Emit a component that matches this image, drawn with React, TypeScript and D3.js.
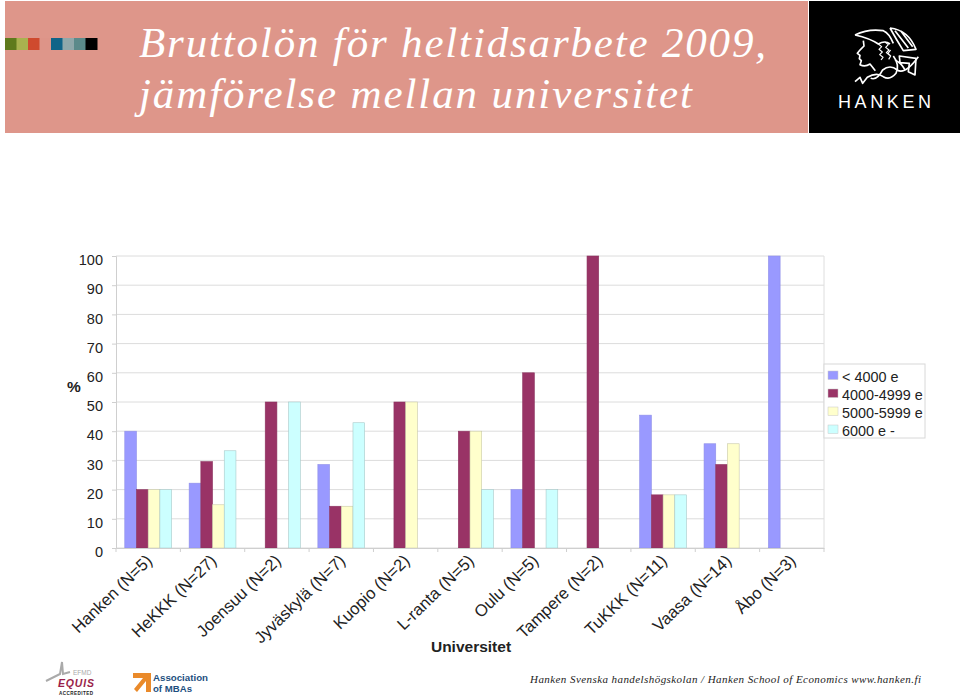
import React, { useEffect, useRef } from 'react';
import * as d3 from 'd3';

const categories = ['Hanken (N=5)', 'HeKKK (N=27)', 'Joensuu (N=2)', 'Jyväskylä (N=7)', 'Kuopio (N=2)', 'L-ranta (N=5)', 'Oulu (N=5)', 'Tampere (N=2)', 'TuKKK (N=11)', 'Vaasa (N=14)', 'Åbo (N=3)'];
const seriesNames = ['< 4000 e', '4000-4999 e', '5000-5999 e', '6000 e -'];
const seriesColors = ['#9999ff', '#993366', '#ffffcc', '#ccffff'];
const seriesEdges = ['#8f8fe8', '#8d3560', '#c9c9a8', '#a9c9c9'];
const under4000 = [40, 22.2, 0, 28.6, 0, 0, 20, 0, 45.5, 35.7, 100];
const from4000 = [20, 29.6, 50, 14.3, 50, 40, 60, 100, 18.2, 28.6, 0];
const from5000 = [20, 14.8, 0, 14.3, 50, 40, 0, 0, 18.2, 35.7, 0];
const from6000 = [20, 33.3, 50, 42.9, 0, 20, 20, 0, 18.2, 0, 0];
const seriesValues = [under4000, from4000, from5000, from6000];
const yTicks = [0, 10, 20, 30, 40, 50, 60, 70, 80, 90, 100];
const swatches = ['#5f7a1c', '#a9b24f', '#cf4a2e', '#dd9488', '#0f6488', '#8fa8aa', '#5b8a8a', '#000000'];

const SANS = '"Liberation Sans", Arial, sans-serif';
const SERIF = '"Liberation Serif", "Times New Roman", serif';

export default function App() {
  const svgRef = useRef<SVGSVGElement>(null);

  useEffect(() => {
    if (!svgRef.current) return;
    const svg = d3.select(svgRef.current);
    svg.selectAll('*').remove();

    const plot = { left: 116, right: 824, top: 256, bottom: 548 };

    const x = d3.scaleBand().domain(categories).range([plot.left, plot.right]);
    const y = d3.scaleLinear().domain([0, 100]).range([plot.bottom, plot.top]);
    const inner = d3.scaleBand().domain(seriesNames).range([0, x.bandwidth()]).paddingOuter(0.75);

    // Header
    svg.append('rect').attr('x', 5).attr('y', 1).attr('width', 803).attr('height', 132).attr('fill', '#de968a');
    svg.append('rect').attr('x', 809).attr('y', 1).attr('width', 151).attr('height', 132).attr('fill', '#000');
    const sw = d3.scaleBand().domain(d3.range(swatches.length).map(String)).range([5, 97]);
    svg.append('g').selectAll('rect').data(swatches).enter().append('rect')
      .attr('x', (_, i) => sw(String(i)) as number)
      .attr('y', 38).attr('width', sw.bandwidth() + 0.5).attr('height', 12)
      .attr('fill', d => d);
    svg.append('text').text('Bruttolön för heltidsarbete 2009,')
      .attr('x', 139).attr('y', 57).attr('fill', '#fff').attr('font-family', SERIF)
      .attr('font-style', 'italic').attr('font-size', 43)
      .attr('textLength', 627).attr('lengthAdjust', 'spacing');
    svg.append('text').text('jämförelse mellan universitet')
      .attr('x', 139).attr('y', 108).attr('fill', '#fff').attr('font-family', SERIF)
      .attr('font-style', 'italic').attr('font-size', 43)
      .attr('textLength', 553).attr('lengthAdjust', 'spacing');

    // Hanken logo, traced roughly from the crest
    const logo = svg.append('g').attr('transform', 'translate(840,20) scale(0.3333)')
      .attr('fill', 'none').attr('stroke', '#fff').attr('stroke-width', 5).attr('stroke-linejoin', 'round');
    logo.append('path').attr('d', 'M45 45 Q90 55 115 72 Q135 60 150 72 M45 45 Q85 25 130 32 Q148 40 160 70 M70 62 L72 78 L62 88 L52 100 L60 106 L58 116 L64 122 L60 134 Q75 142 90 132 L106 152');
    logo.append('path').attr('d', 'M150 24 Q205 30 228 88 L190 92 Q170 60 150 24 M165 32 L205 84 M182 32 L218 80');
    logo.append('path').attr('d', 'M115 72 l10 8 l-8 8 l10 8 l-8 8 l10 8 l-6 8 M135 66 l10 8 l-8 8 l10 8 l-8 8 l10 8 M152 90 l-8 10 l8 8 l-6 10').attr('stroke-width', 3.5);
    logo.append('path').attr('d', 'M45 185 L60 172 L68 190 L82 172 Q110 155 130 170 Q150 182 168 160 Q180 135 160 108 M92 175 Q112 182 128 150 Q150 132 172 150 Q195 165 235 110');
    logo.append('path').attr('d', 'M178 108 L228 115 L225 165 L205 155 L208 130 L180 128 Z M165 120 Q185 130 195 150');
    svg.append('text').text('HANKEN').attr('x', 838).attr('y', 108).attr('fill', '#fff')
      .attr('font-family', SANS).attr('font-size', 18)
      .attr('textLength', 93).attr('lengthAdjust', 'spacing');

    // Gridlines
    svg.append('g').selectAll('line').data(yTicks).enter().append('line')
      .attr('x1', plot.left).attr('x2', plot.right)
      .attr('y1', d => y(d)).attr('y2', d => y(d))
      .attr('stroke', '#dcdcdc').attr('stroke-width', 1);
    svg.append('line').attr('x1', plot.right).attr('x2', plot.right)
      .attr('y1', plot.top).attr('y2', plot.bottom).attr('stroke', '#dedede');

    // Bars
    seriesNames.forEach((name, si) => {
      const g = svg.append('g');
      seriesValues[si].forEach((v, ci) => {
        if (v <= 0) return;
        g.append('rect')
          .attr('x', (x(categories[ci]) as number) + (inner(name) as number))
          .attr('y', y(v))
          .attr('width', inner.bandwidth())
          .attr('height', plot.bottom - y(v))
          .attr('fill', seriesColors[si])
          .attr('stroke', seriesEdges[si])
          .attr('stroke-width', 0.6);
      });
    });

    // Axes
    const yAxis = svg.append('g').attr('transform', `translate(${plot.left},0)`)
      .call(d3.axisLeft(y).tickValues(yTicks).tickSize(4).tickPadding(9));
    yAxis.selectAll('path,line').attr('stroke', '#cfcfcf');
    yAxis.selectAll('text').attr('font-family', SANS).attr('font-size', 14.5).attr('fill', '#222')
      .attr('dy', '0.6em');

    const xAxis = svg.append('g').attr('transform', `translate(0,${plot.bottom})`)
      .call(d3.axisBottom(x).tickSize(0).tickFormat(d => d as string));
    xAxis.select('path').attr('stroke', '#cfcfcf');
    xAxis.selectAll('text')
      .attr('font-family', SANS).attr('font-size', 16.6).attr('fill', '#222')
      .attr('text-anchor', 'end').attr('dy', 0).attr('y', 0)
      .attr('transform', 'translate(5,14) rotate(-44)');
    svg.append('g').selectAll('line').data(d3.range(categories.length + 1)).enter().append('line')
      .attr('x1', d => plot.left + d * x.step()).attr('x2', d => plot.left + d * x.step())
      .attr('y1', plot.bottom).attr('y2', plot.bottom + 4).attr('stroke', '#cfcfcf');

    // Axis titles
    svg.append('text').text('%').attr('x', 74).attr('y', 392).attr('text-anchor', 'middle')
      .attr('font-family', SANS).attr('font-size', 15.5).attr('font-weight', 700).attr('fill', '#222');
    svg.append('text').text('Universitet').attr('x', 471).attr('y', 652).attr('text-anchor', 'middle')
      .attr('font-family', SANS).attr('font-size', 15.5).attr('font-weight', 700).attr('fill', '#222');

    // Legend
    const legend = svg.append('g');
    legend.append('rect').attr('x', 824).attr('y', 364).attr('width', 101).attr('height', 74)
      .attr('fill', '#fff').attr('stroke', '#d8d8d8');
    const ly = d3.scalePoint().domain(seriesNames).range([371, 425]);
    seriesNames.forEach((name, si) => {
      const top = ly(name) as number;
      legend.append('rect').attr('x', 828).attr('y', top).attr('width', 10).attr('height', 8.5)
        .attr('fill', seriesColors[si]).attr('stroke', '#c8c8c8').attr('stroke-width', 0.5);
      legend.append('text').text(name).attr('x', 842).attr('y', top + 11)
        .attr('font-family', SANS).attr('font-size', 14.4).attr('fill', '#222');
    });

    // Footer
    svg.append('text').text('Hanken Svenska handelshögskolan / Hanken School of Economics www.hanken.fi')
      .attr('x', 530).attr('y', 683).attr('font-family', SERIF).attr('font-style', 'italic')
      .attr('font-size', 11).attr('fill', '#222').attr('textLength', 391).attr('lengthAdjust', 'spacing');

    // Accreditation marks
    svg.append('path').attr('d', 'M46 681 L60 674 L62 662 L63 674 L70 672').attr('fill', 'none').attr('stroke', '#aaa').attr('stroke-width', 2);
    svg.append('text').text('EFMD').attr('x', 73).attr('y', 675).attr('font-family', SANS).attr('font-size', 6.5).attr('fill', '#aaa');
    svg.append('text').text('EQUIS').attr('x', 58).attr('y', 687).attr('font-family', SANS).attr('font-size', 10.5)
      .attr('font-weight', 700).attr('font-style', 'italic').attr('fill', '#9a1f4a').attr('textLength', 36);
    svg.append('text').text('ACCREDITED').attr('x', 59).attr('y', 695).attr('font-family', SANS).attr('font-size', 4.6)
      .attr('font-weight', 700).attr('fill', '#222').attr('textLength', 34);
    svg.append('path').attr('d', 'M133 673 H151 V692 H146 V681 L137 692 L134 689 L143 678 H133 Z').attr('fill', '#ea8a2a');
    svg.append('text').text('Association').attr('x', 153).attr('y', 681).attr('font-family', SANS).attr('font-size', 9)
      .attr('font-weight', 700).attr('fill', '#1d4f80').attr('textLength', 55).attr('lengthAdjust', 'spacingAndGlyphs');
    svg.append('text').text('of MBAs').attr('x', 153).attr('y', 692).attr('font-family', SANS).attr('font-size', 9)
      .attr('font-weight', 700).attr('fill', '#1d4f80').attr('textLength', 39).attr('lengthAdjust', 'spacingAndGlyphs');
  }, []);

  return (
    <svg
      ref={svgRef}
      width={960}
      height={698}
      style={{ position: 'absolute', left: 0, top: 0, background: '#fff' }}
    />
  );
}
